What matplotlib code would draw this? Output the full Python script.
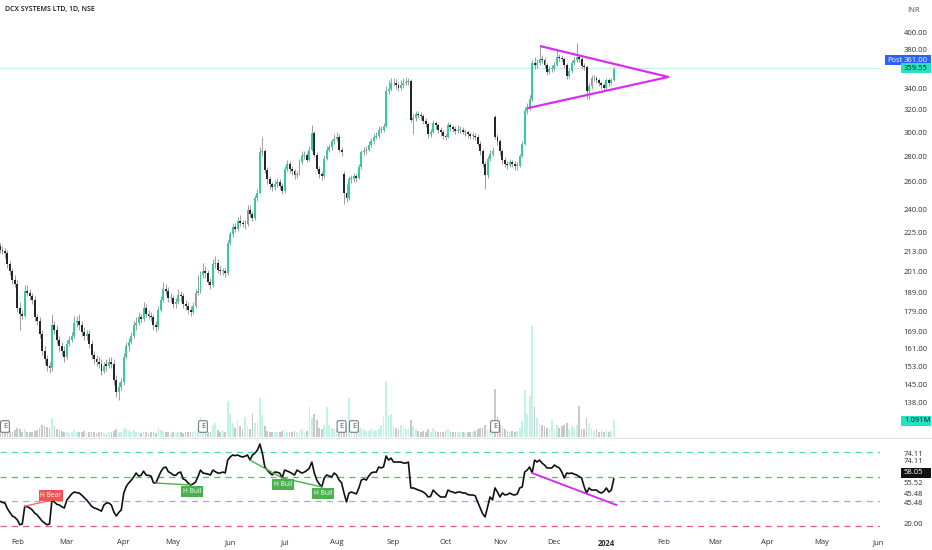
import numpy as np
import pandas as pd
import matplotlib
matplotlib.use("Agg")
import matplotlib.pyplot as plt
from matplotlib.lines import Line2D
from matplotlib.patches import Rectangle
from matplotlib.ticker import NullLocator
from matplotlib.transforms import blended_transform_factory

plt.rcParams['font.family'] = ['Open Sans', 'DejaVu Sans']

# DCX Systems daily candles (first bar 23 Jan 2023)
start_date = '2023-01-23'

opens = [216, 214, 213, 212, 205, 201, 196, 194, 181, 178,
         177, 190, 189, 187, 185, 176, 174, 168, 160, 156,
         153, 152, 172, 170, 165, 162, 160, 157, 163, 165,
         167, 173, 174, 172, 169, 167, 168, 163, 158, 156,
         155, 154, 151, 154, 153, 155, 154, 147, 142, 144,
         146, 157, 162, 164, 167, 172, 173, 176, 175, 181,
         178, 177, 176, 172, 171, 180, 185, 191, 190, 186,
         186, 183, 184, 188, 187, 183, 182, 180, 179, 182,
         189, 190, 199, 201, 200, 195, 193, 205, 206, 202,
         201, 201, 200, 218, 224, 228, 227, 232, 231, 230,
         230, 240, 237, 234, 248, 252, 283, 284, 269, 262,
         258, 256, 258, 260, 257, 253, 270, 274, 270, 268,
         265, 266, 275, 280, 281, 277, 285, 299, 281, 270,
         266, 264, 278, 285, 287, 292, 294, 296, 285, 266,
         252, 248, 262, 262, 264, 263, 271, 283, 284, 285,
         289, 292, 296, 297, 302, 302, 305, 338, 340, 345,
         345, 343, 341, 343, 345, 346, 347, 311, 312, 316,
         315, 314, 310, 307, 298, 300, 308, 306, 302, 300,
         297, 296, 306, 304, 303, 301, 302, 302, 300, 300,
         298, 297, 297, 296, 290, 284, 274, 265, 278, 282,
         313, 296, 292, 284, 277, 274, 273, 275, 274, 272,
         272, 280, 290, 319, 322, 330, 366, 364, 366, 370,
         369, 364, 357, 360, 360, 364, 372, 371, 370, 364,
         352, 358, 366, 369, 372, 370, 363, 362, 338, 342,
         350, 350, 348, 345, 343, 341, 348, 345, 348]

highs = [218, 216, 215, 214, 207, 203, 199, 196, 184, 180,
         193, 193, 191, 189, 187, 178, 176, 170, 162, 158,
         155, 178, 174, 172, 167, 164, 162, 165, 167, 169,
         177, 177, 178, 174, 171, 170, 170, 165, 160, 158,
         157, 156, 155, 156, 157, 157, 156, 149, 146, 148,
         159, 164, 166, 169, 174, 176, 179, 178, 184, 183,
         180, 179, 178, 174, 182, 187, 195, 194, 192, 189,
         188, 186, 191, 190, 189, 185, 184, 182, 184, 191,
         199, 201, 206, 204, 202, 197, 208, 210, 208, 204,
         203, 203, 220, 226, 231, 231, 235, 236, 233, 233,
         243, 243, 239, 250, 255, 287, 296, 286, 271, 264,
         260, 261, 263, 262, 259, 272, 277, 276, 272, 270,
         268, 278, 284, 284, 283, 288, 306, 301, 283, 272,
         268, 281, 288, 290, 294, 298, 300, 298, 287, 268,
         258, 264, 265, 267, 266, 274, 285, 287, 288, 292,
         295, 299, 300, 305, 305, 308, 342, 348, 350, 350,
         349, 346, 348, 350, 351, 350, 349, 316, 319, 319,
         318, 316, 312, 309, 303, 311, 310, 308, 304, 302,
         299, 309, 308, 306, 305, 306, 305, 304, 303, 302,
         300, 300, 299, 298, 292, 286, 276, 280, 285, 287,
         315, 298, 294, 286, 279, 276, 278, 277, 276, 275,
         282, 292, 322, 326, 334, 369, 372, 370, 384, 374,
         372, 366, 363, 364, 367, 380, 376, 374, 372, 366,
         361, 369, 372, 388, 375, 372, 366, 364, 345, 353,
         353, 352, 350, 347, 345, 350, 350, 350, 362]

lows = [212, 211, 209, 203, 199, 194, 192, 179, 170, 175,
        176, 187, 185, 183, 174, 172, 166, 158, 154, 151,
        150, 151, 168, 163, 160, 158, 155, 156, 162, 164,
        166, 171, 170, 167, 165, 165, 161, 156, 154, 153,
        152, 149, 150, 151, 152, 152, 145, 140, 139, 143,
        145, 156, 160, 163, 166, 170, 172, 173, 174, 176,
        175, 174, 170, 169, 170, 179, 184, 188, 184, 184,
        181, 181, 183, 184, 181, 180, 178, 177, 178, 181,
        188, 189, 197, 197, 193, 191, 192, 203, 200, 199,
        199, 198, 199, 217, 222, 225, 226, 229, 228, 227,
        229, 235, 232, 233, 246, 251, 280, 267, 258, 255,
        253, 254, 256, 255, 251, 252, 268, 267, 265, 262,
        263, 265, 274, 278, 275, 276, 284, 279, 268, 263,
        261, 263, 277, 283, 285, 290, 292, 283, 280, 244,
        245, 247, 259, 260, 260, 262, 270, 281, 282, 284,
        287, 290, 294, 295, 299, 300, 304, 335, 338, 342,
        340, 338, 339, 341, 343, 343, 309, 298, 310, 312,
        311, 307, 304, 295, 296, 299, 303, 299, 297, 294,
        293, 295, 301, 300, 298, 299, 299, 298, 297, 295,
        294, 294, 293, 288, 281, 271, 255, 263, 276, 280,
        294, 289, 281, 274, 271, 270, 271, 271, 269, 269,
        271, 279, 289, 316, 320, 328, 360, 361, 364, 366,
        361, 354, 355, 357, 358, 363, 368, 367, 361, 349,
        350, 356, 364, 367, 367, 360, 359, 330, 330, 340,
        347, 345, 342, 340, 338, 339, 342, 343, 347]

closes = [214, 213, 212, 205, 201, 196, 194, 181, 178, 177,
          190, 189, 187, 185, 176, 174, 168, 160, 156, 153,
          152, 172, 170, 165, 162, 160, 157, 163, 165, 167,
          173, 174, 172, 169, 167, 168, 163, 158, 156, 155,
          154, 151, 153, 153, 155, 154, 147, 142, 144, 146,
          157, 162, 164, 167, 172, 173, 176, 175, 181, 178,
          177, 176, 172, 171, 180, 185, 191, 190, 186, 186,
          183, 184, 188, 187, 183, 182, 180, 179, 182, 189,
          190, 199, 201, 200, 195, 193, 205, 206, 202, 201,
          201, 200, 218, 224, 228, 227, 232, 231, 230, 230,
          240, 237, 234, 248, 252, 283, 284, 269, 262, 258,
          256, 258, 260, 257, 253, 270, 274, 270, 268, 265,
          266, 275, 280, 281, 277, 285, 299, 281, 270, 266,
          264, 278, 285, 287, 292, 294, 296, 285, 283, 252,
          248, 262, 262, 264, 263, 271, 283, 284, 285, 289,
          292, 296, 297, 302, 302, 305, 338, 340, 345, 345,
          343, 341, 343, 345, 346, 347, 311, 312, 316, 315,
          314, 310, 307, 298, 300, 308, 306, 302, 300, 297,
          296, 306, 304, 303, 301, 302, 302, 300, 300, 298,
          297, 297, 296, 290, 284, 274, 265, 278, 282, 284,
          296, 292, 284, 277, 274, 273, 275, 274, 272, 272,
          280, 290, 319, 322, 330, 366, 364, 366, 370, 369,
          364, 357, 360, 360, 364, 372, 371, 370, 364, 352,
          358, 366, 369, 372, 370, 363, 362, 338, 342, 350,
          350, 348, 345, 343, 341, 348, 345, 348, 359.55]

# volume in millions
volumes = [0.4, 0.3, 0.35, 0.5, 0.4, 0.3, 0.45, 0.6, 0.5, 0.3,
           0.5, 0.35, 0.3, 0.3, 0.4, 0.45, 0.6, 0.75, 0.7, 0.65,
           0.6, 1.2, 0.7, 0.5, 0.45, 0.4, 0.3, 0.35, 0.25, 0.3,
           0.45, 0.35, 0.3, 0.3, 0.4, 0.25, 0.3, 0.35, 0.3, 0.25,
           0.3, 0.35, 0.25, 0.2, 0.3, 0.35, 0.4, 0.5, 0.35, 0.3,
           0.55, 0.5, 0.4, 0.35, 0.45, 0.3, 0.3, 0.25, 0.35, 0.3,
           0.25, 0.3, 0.3, 0.25, 0.6, 0.45, 0.4, 0.3, 0.3, 0.25,
           0.3, 0.25, 0.3, 0.3, 0.25, 0.3, 0.3, 0.3, 0.3, 0.4,
           0.5, 1.3, 0.5, 0.4, 0.35, 0.3, 0.8, 0.9, 0.45, 0.35,
           0.4, 0.3, 2.3, 1.5, 0.9, 0.6, 1.0, 0.7, 0.5, 1.3,
           0.7, 0.5, 1.5, 0.9, 1.0, 2.5, 1.4, 0.7, 0.4, 0.35,
           0.3, 0.35, 0.3, 0.35, 0.4, 0.5, 0.3, 0.35, 0.3, 0.4,
           0.3, 0.45, 0.5, 0.35, 0.4, 2.0, 1.2, 1.5, 1.1, 0.6,
           0.5, 0.8, 1.9, 0.8, 0.6, 0.5, 0.6, 0.7, 0.4, 0.9,
           0.7, 2.5, 0.6, 0.5, 0.4, 0.5, 0.6, 0.5, 0.4, 0.4,
           0.5, 0.45, 0.4, 0.5, 0.8, 1.3, 3.6, 1.4, 1.5, 0.8,
           0.6, 0.5, 0.8, 0.6, 0.5, 0.5, 1.1, 0.7, 0.5, 0.4,
           0.35, 0.4, 0.35, 0.5, 0.35, 0.6, 0.4, 0.35, 0.3, 0.35,
           0.4, 0.5, 0.35, 0.3, 0.35, 0.3, 0.3, 0.35, 0.3, 0.35,
           0.3, 0.35, 0.4, 0.5, 0.55, 0.6, 0.8, 0.5, 0.5, 0.4,
           3.1, 1.3, 0.8, 0.6, 0.5, 0.4, 0.35, 0.4, 0.35, 0.4,
           0.6, 1.0, 3.0, 1.5, 2.6, 7.1, 1.9, 1.2, 0.9, 0.8,
           0.7, 0.6, 0.5, 1.1, 0.5, 0.8, 0.6, 0.7, 0.8, 0.9,
           0.5, 0.7, 0.6, 0.8, 2.0, 0.5, 0.5, 1.2, 0.9, 0.6,
           0.4, 0.5, 0.35, 0.4, 0.3, 0.5, 0.35, 0.4, 1.091]

rsi = [40, 39, 38.6, 34, 31, 28, 27, 24.9, 21, 21.5,
       36, 35.5, 34.6, 33, 30.5, 29, 26.5, 24, 22.4, 21,
       21.6, 41, 39.4, 37.5, 37, 35.5, 34.6, 41, 43.5, 46,
       47.5, 47, 46.7, 45, 43, 41, 38.6, 36, 34.6, 34,
       33, 32, 37, 38.6, 38.6, 37, 31.3, 28.1, 31, 33,
       46.7, 52, 54.8, 57, 59.7, 62.9, 60.5, 61, 64.5, 61.3,
       61, 60.5, 55, 54.8, 59.7, 64, 67, 67.8, 64, 62.9,
       61.3, 61, 63, 63.7, 58.1, 57.2, 54.8, 53.2, 54, 55.6,
       60, 65.3, 62.9, 62.5, 62.1, 61.3, 65.3, 64, 62.9, 62.9,
       63.7, 63, 73.4, 75.9, 77.5, 77, 77.5, 76.5, 75.9, 76.5,
       77.5, 73.4, 77.5, 79, 81.5, 86.4, 79, 67.8, 65.3, 63,
       61.3, 63.7, 63.5, 62.9, 58.9, 65.3, 64.5, 63.7, 62.5, 61.3,
       65.3, 64, 62.9, 63.7, 65, 67, 71.8, 62.9, 57.2, 54,
       51.6, 58.9, 61.3, 60.5, 59.7, 62.9, 61.3, 57.2, 55, 46.7,
       39.4, 46.7, 47.5, 46.7, 46, 50.8, 57.2, 58.1, 57.2, 60.5,
       62.9, 63.7, 63.5, 67.8, 67, 68, 76.7, 73.4, 75, 71.8,
       71.8, 71.8, 71.8, 71, 71, 71.8, 50.8, 50.8, 50, 49.1,
       48.5, 47.5, 46, 43.5, 44, 49.1, 47, 45.1, 43.5, 43.5,
       43.5, 49.1, 48, 47.5, 46.7, 47.5, 47.5, 46.7, 46.7, 45.5,
       45.1, 45.1, 44.5, 39.4, 34.6, 30, 27.3, 35.4, 43.5, 41.1,
       50.8, 47.5, 43.5, 46.7, 45.1, 45.5, 46.7, 45.5, 45.1, 46,
       50.8, 51.6, 63.7, 65.3, 67.8, 62.9, 73.4, 71.8, 73.4, 71,
       69.4, 67, 67, 67, 69.4, 68, 67, 63.7, 58.9, 62.9,
       62.5, 62.9, 62, 61.3, 60, 58.9, 52, 46.7, 50.8, 49.1,
       49.1, 49.1, 47.5, 46.7, 48, 50.8, 47.5, 49.1, 58.05]

price_ticks = [138, 145, 153, 161, 169, 179, 189, 201, 213, 225, 240,
               260, 280, 300, 320, 340, 380, 400]
post_price = 361.00
last_volume_label = '1.091M'
earnings_bars = [2, 82, 138, 143, 200]

# symmetrical triangle drawn on price (bar index, price)
tri_upper_x, tri_upper_y = [218.5, 270], [384, 351.5]
tri_lower_x, tri_lower_y = [213.5, 270], [321.5, 351.5]

# RSI bands and divergences (bar index pairs)
rsi_levels = [80, 60, 40, 20]
rsi_level_colors = ['#4dd6c4', '#6fae74', '#a3a8e0', '#e0607a']
bear_pivots = [10, 21]
bull_pivots = [[63, 77], [101, 114], [114, 130]]
rsi_trend_x, rsi_trend_y = [215, 249], [62.9, 37]

# ---------------------------------------------------------------
n = len(closes)
x = np.arange(n)
o = np.array(opens, float)
c = np.array(closes, float)
up = c >= o

axis_dates = pd.bdate_range(start_date, periods=370)
month_pos = [i for i in range(1, len(axis_dates))
             if axis_dates[i].month != axis_dates[i - 1].month]
month_lab = [str(axis_dates[i].year) if axis_dates[i].month == 1
             else axis_dates[i].strftime('%b') for i in month_pos]

W, H = 932, 550
BAR_PX = 2.475
fig = plt.figure(figsize=(W / 100, H / 100), dpi=100)
fig.patch.set_facecolor('white')


def rect(top, bottom, right=880):
    return [0, 1 - bottom / H, right / W, (bottom - top) / H]


ax_vol = fig.add_axes(rect(0, 437))
ax = fig.add_axes(rect(0, 437), sharex=ax_vol)
ax_rsi = fig.add_axes(rect(438, 532), sharex=ax_vol)
ax_rsi.set_xlim(0, 880 / BAR_PX)

# volume
ax_vol.bar(x, volumes, width=0.7, color=np.where(up, '#c3f2e7', '#c8c8c8'),
           linewidth=0)
ax_vol.set_ylim(0, 437 * 0.064)
ax_vol.axis('off')
bt = blended_transform_factory(ax_vol.transData, ax_vol.transAxes)
for b in earnings_bars:
    ax_vol.text(b, 0.024, 'E', transform=bt, ha='center', va='center',
                fontsize=5.5, color='#50535e', zorder=5,
                bbox=dict(boxstyle='round,pad=0.3,rounding_size=0.2',
                          fc='white', ec='#787b86', lw=0.8))

# candles
ax.patch.set_alpha(0)
ax.axhline(post_price, color='#c4ecf2', lw=0.8, zorder=1)
ax.vlines(x, lows, highs, color='#9d9d9d', linewidth=0.7, zorder=2)
ax.bar(x, np.maximum(np.abs(c - o), 0.5), bottom=np.minimum(o, c), width=0.78,
       color=np.where(up, '#35c9a5', '#262626'), linewidth=0, zorder=3)
ax.plot(tri_upper_x, tri_upper_y, color='#d62ff2', lw=1.6, zorder=4,
        solid_capstyle='round')
ax.plot(tri_lower_x, tri_lower_y, color='#d62ff2', lw=1.6, zorder=4,
        solid_capstyle='round')
ax.set_yscale('log')
ax.set_ylim(124.8, 438.6)
ax.yaxis.tick_right()
ax.set_yticks(price_ticks, labels=[f'{v:.2f}' for v in price_ticks])
ax.yaxis.set_minor_locator(NullLocator())
ax.tick_params(axis='y', which='both', length=0, pad=17, labelsize=5.5,
               labelcolor='#2a2e39')
ax.tick_params(axis='x', bottom=False, labelbottom=False)
for s in ax.spines.values():
    s.set_visible(False)

# RSI pane
for lvl, col in zip(rsi_levels, rsi_level_colors):
    ax_rsi.axhline(lvl, color=col, lw=0.9, dashes=(5, 4))
ax_rsi.plot(x, rsi, color='#111111', lw=1.2, zorder=3)

ax_rsi.plot(bear_pivots, [rsi[i] for i in bear_pivots], color='#f06a72',
            lw=1.0, zorder=4)
ax_rsi.text(bear_pivots[1] - 0.5, rsi[bear_pivots[1]] + 3.8, 'H Bear',
            ha='center', va='center', fontsize=4.8, color='white', zorder=6,
            bbox=dict(boxstyle='square,pad=0.25', fc='#f05454', ec='none'))
for p in bull_pivots:
    ax_rsi.plot(p, [rsi[i] for i in p], color='#4caf50', lw=1.0, zorder=4)
    ax_rsi.text(p[1] + 0.5, rsi[p[1]] - 5.2, 'H Bull', ha='center',
                va='center', fontsize=4.8, color='white', zorder=6,
                bbox=dict(boxstyle='square,pad=0.25', fc='#4caf50', ec='none'))
ax_rsi.plot(rsi_trend_x, rsi_trend_y, color='#d62ff2', lw=1.4, zorder=4)

ax_rsi.set_ylim(15.1, 91.3)
ax_rsi.yaxis.tick_right()
ax_rsi.set_yticks([79.1, 73.4, 55.6, 46.7, 39.4, 21.6],
                  labels=['74.11', '74.11', '55.52', '45.48', '45.48', '20.00'])
ax_rsi.tick_params(axis='y', length=0, pad=17, labelsize=5.5,
                   labelcolor='#2a2e39')
ax_rsi.set_xticks(month_pos, labels=month_lab)
ax_rsi.tick_params(axis='x', length=0, pad=5, labelsize=5.5,
                   labelcolor='#2a2e39')
for t in ax_rsi.get_xticklabels():
    if t.get_text() == '2024':
        t.set_fontweight('bold')
for s in ax_rsi.spines.values():
    s.set_visible(False)

# pane separator
fig.add_artist(Line2D([0, 1], [1 - 437.5 / H] * 2, color='#e0e3eb', lw=0.8))


def scale_box(y_px, text, fc, tc, x0=901, prefix=None):
    fig.add_artist(Rectangle((x0 / W, 1 - (y_px + 5) / H), (931 - x0) / W,
                             10 / H, transform=fig.transFigure, fc=fc,
                             ec='none'))
    fig.text(904 / W, 1 - y_px / H, text, fontsize=5.5, color=tc,
             va='center', ha='left')
    if prefix:
        fig.text((x0 + 2) / W, 1 - y_px / H, prefix, fontsize=5.5,
                 color=tc, va='center', ha='left')


scale_box(60, f'{post_price:.2f}', '#2962ff', 'white', x0=885, prefix='Post')
scale_box(68, f'{closes[-1]:.2f}', '#27e2be', '#131722')
scale_box(421, last_volume_label, '#27e2be', '#131722')
scale_box(473, f'{rsi[-1]:.2f}', '#111111', 'white')

fig.text(5 / W, 1 - 10 / H, 'DCX SYSTEMS LTD, 1D, NSE', fontsize=5,
         color='#131722', va='center', fontweight='semibold')
fig.text(907 / W, 1 - 10 / H, 'INR', fontsize=5.5, color='#50535e',
         va='center')

fig.savefig('out.png', dpi=100, facecolor='white')
